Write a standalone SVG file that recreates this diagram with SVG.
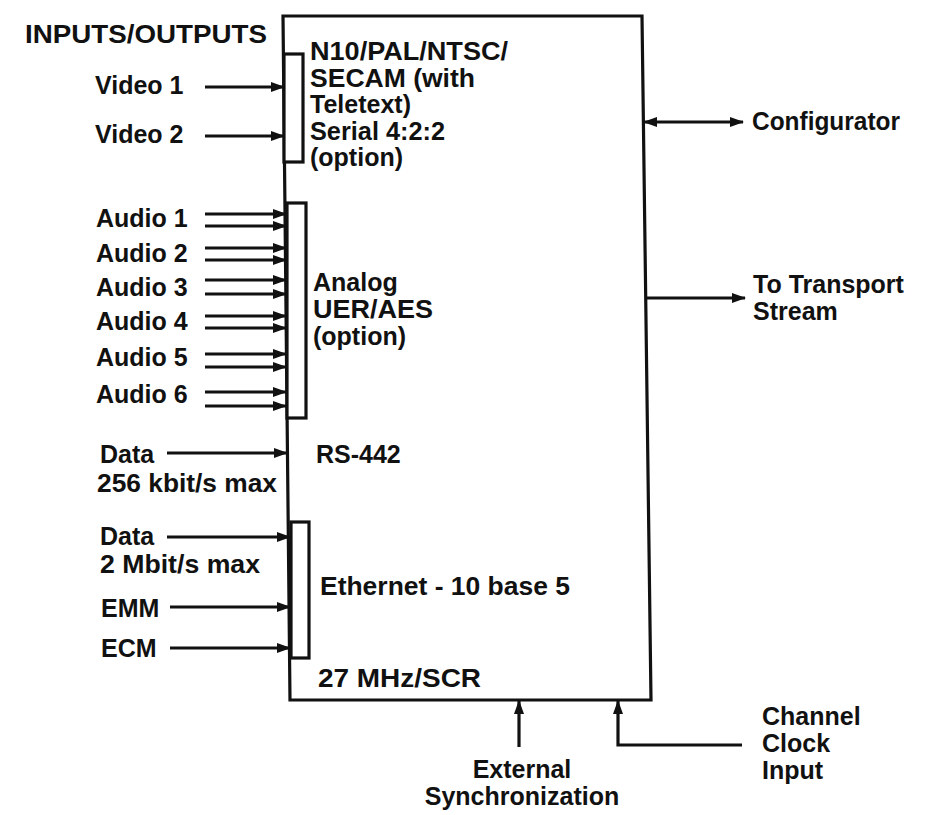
<svg xmlns="http://www.w3.org/2000/svg" width="926" height="815" viewBox="0 0 926 815">
<style>
text{font-family:"Liberation Sans",Arial,sans-serif;font-weight:bold;font-size:25px;fill:#111}
.ln{stroke:#111;stroke-width:3.2;fill:none}
.bx{stroke:#111;stroke-width:3.2;fill:#fff}
</style>
<defs>
<marker id="ah" markerUnits="userSpaceOnUse" markerWidth="14" markerHeight="10" refX="13" refY="5" orient="auto-start-reverse">
<path d="M0,0 L14,5 L0,10 z" fill="#111"/>
</marker>
</defs>
<rect width="926" height="815" fill="#fff"/>

<g id="unit">
<path class="bx" d="M283,16 L642,16 L651,700 L290,700 Z"/>
<text x="310" y="60" textLength="198" lengthAdjust="spacingAndGlyphs">N10/PAL/NTSC/</text>
<text x="310" y="87" textLength="165" lengthAdjust="spacingAndGlyphs">SECAM (with</text>
<text x="310" y="113">Teletext)</text>
<text x="310" y="140" textLength="135" lengthAdjust="spacingAndGlyphs">Serial 4:2:2</text>
<text x="310" y="166">(option)</text>
<text x="313" y="291">Analog</text>
<text x="313" y="318" textLength="120" lengthAdjust="spacingAndGlyphs">UER/AES</text>
<text x="313" y="345">(option)</text>
<text x="316" y="463">RS-442</text>
<text x="320" y="595" textLength="250" lengthAdjust="spacingAndGlyphs">Ethernet - 10 base 5</text>
<text x="318" y="687" textLength="163" lengthAdjust="spacingAndGlyphs">27 MHz/SCR</text>
</g>

<g id="video-port"><rect class="bx" x="284" y="54" width="19" height="108"/></g>
<g id="audio-port"><rect class="bx" x="287" y="203" width="19" height="215"/></g>
<g id="ethernet-port"><rect class="bx" x="291" y="522" width="18" height="136"/></g>

<g id="labels">
<text x="25" y="43" textLength="242" lengthAdjust="spacingAndGlyphs">INPUTS/OUTPUTS</text>
<text x="95" y="94">Video 1</text>
<text x="95" y="143">Video 2</text>
<text x="96" y="227">Audio 1</text>
<text x="96" y="262">Audio 2</text>
<text x="96" y="296">Audio 3</text>
<text x="96" y="330">Audio 4</text>
<text x="96" y="366">Audio 5</text>
<text x="96" y="403">Audio 6</text>
<text x="100" y="463">Data</text>
<text x="97" y="492" textLength="180" lengthAdjust="spacingAndGlyphs">256 kbit/s max</text>
<text x="100" y="545">Data</text>
<text x="100" y="573" textLength="160" lengthAdjust="spacingAndGlyphs">2 Mbit/s max</text>
<text x="101" y="617">EMM</text>
<text x="101" y="657">ECM</text>
<text x="752" y="130" textLength="148" lengthAdjust="spacingAndGlyphs">Configurator</text>
<text x="753" y="293">To Transport</text>
<text x="753" y="320">Stream</text>
<text x="522" y="778" text-anchor="middle">External</text>
<text x="522" y="805" text-anchor="middle">Synchronization</text>
<text x="762" y="725">Channel</text>
<text x="762" y="752">Clock</text>
<text x="762" y="779">Input</text>
</g>

<g id="connectors">
<line class="ln" x1="205" y1="87" x2="284" y2="87" marker-end="url(#ah)"/>
<line class="ln" x1="205" y1="136" x2="284" y2="136" marker-end="url(#ah)"/>
<line class="ln" x1="205" y1="214" x2="286" y2="214" marker-end="url(#ah)"/>
<line class="ln" x1="205" y1="226" x2="286" y2="226" marker-end="url(#ah)"/>
<line class="ln" x1="205" y1="248" x2="286" y2="248" marker-end="url(#ah)"/>
<line class="ln" x1="205" y1="260" x2="286" y2="260" marker-end="url(#ah)"/>
<line class="ln" x1="205" y1="280" x2="286" y2="280" marker-end="url(#ah)"/>
<line class="ln" x1="205" y1="294" x2="286" y2="294" marker-end="url(#ah)"/>
<line class="ln" x1="205" y1="316" x2="286" y2="316" marker-end="url(#ah)"/>
<line class="ln" x1="205" y1="328" x2="286" y2="328" marker-end="url(#ah)"/>
<line class="ln" x1="205" y1="354" x2="286" y2="354" marker-end="url(#ah)"/>
<line class="ln" x1="205" y1="367" x2="286" y2="367" marker-end="url(#ah)"/>
<line class="ln" x1="205" y1="392" x2="286" y2="392" marker-end="url(#ah)"/>
<line class="ln" x1="205" y1="406" x2="286" y2="406" marker-end="url(#ah)"/>
<line class="ln" x1="167" y1="453" x2="287" y2="453" marker-end="url(#ah)"/>
<line class="ln" x1="167" y1="537" x2="290" y2="537" marker-end="url(#ah)"/>
<line class="ln" x1="170" y1="607" x2="290" y2="607" marker-end="url(#ah)"/>
<line class="ln" x1="170" y1="648" x2="290" y2="648" marker-end="url(#ah)"/>
<line class="ln" x1="644" y1="122" x2="743" y2="122" marker-start="url(#ah)" marker-end="url(#ah)"/>
<line class="ln" x1="645" y1="298" x2="745" y2="298" marker-end="url(#ah)"/>
<line class="ln" x1="519" y1="747" x2="519" y2="701" marker-end="url(#ah)"/>
<polyline class="ln" points="742,745 618,745 618,701" marker-end="url(#ah)"/>
</g>
</svg>
